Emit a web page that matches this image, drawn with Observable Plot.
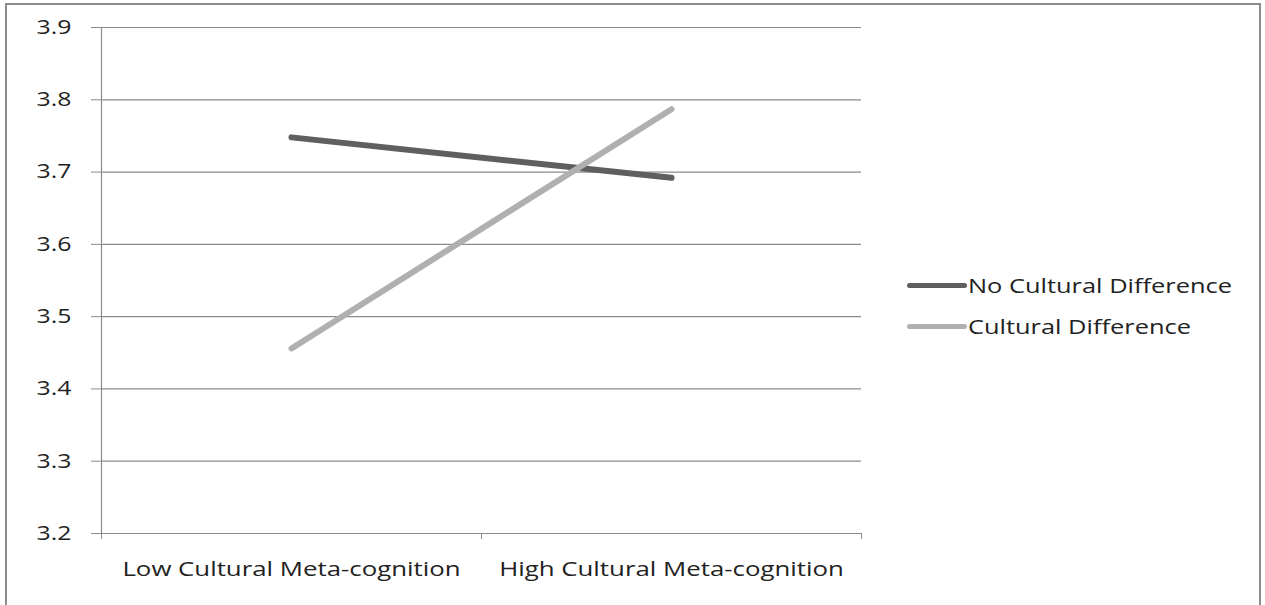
<!DOCTYPE html>
<html>
<head>
<meta charset="utf-8">
<script src="https://cdn.jsdelivr.net/npm/d3@7"></script>
<script src="https://cdn.jsdelivr.net/npm/@observablehq/plot@0.6"></script>
<style>
  html, body { margin: 0; padding: 0; background: #fff; }
  #wrap { position: relative; width: 1265px; height: 605px; overflow: hidden; font-family: "Open Sans", sans-serif; }
  #border { position: absolute; left: 5px; top: 3px; width: 1256px; height: 640px; border: 2px solid #8c8c8c; box-sizing: border-box; pointer-events: none; }
  #legend { position: absolute; left: 907px; top: 0; font-size: 20px; color: #222; }
  .item { position: absolute; left: 0; display: flex; align-items: center; white-space: nowrap; }
  .swatch { width: 60px; height: 5px; border-radius: 3px; margin-right: 1px; }
  .label { display: inline-block; transform: scaleX(1.27); transform-origin: left center; }
</style>
</head>
<body>
<div id="wrap">
  <div id="chart"></div>
  <div id="legend"></div>
  <div id="border"></div>
</div>
<script>
const categories = ["Low Cultural Meta-cognition", "High Cultural Meta-cognition"];
const seriesNames = ["No Cultural Difference", "Cultural Difference"];
const noCulturalDifference = [3.748, 3.692];
const culturalDifference = [3.456, 3.787];
const yTicks = [3.2, 3.3, 3.4, 3.5, 3.6, 3.7, 3.8, 3.9];
const colors = ["#5f5f5f", "#b0b0b0"];

const data = [];
[noCulturalDifference, culturalDifference].forEach((vals, s) => {
  vals.forEach((v, i) => data.push({series: seriesNames[s], idx: i + 0.5, cat: categories[i], value: v}));
});

const chart = Plot.plot({
  width: 1265,
  height: 605,
  marginLeft: 101,
  marginRight: 404,
  marginTop: 27,
  marginBottom: 72,
  style: {fontFamily: "Open Sans, sans-serif", fontSize: "20px", color: "#222", background: "transparent"},
  x: {type: "linear", domain: [0, categories.length]},
  y: {domain: [3.2, 3.9]},
  color: {domain: seriesNames, range: colors},
  marks: [
    Plot.ruleY(yTicks, {stroke: "#8c8c8c", strokeWidth: 1.2}),
    Plot.frame({anchor: "left", stroke: "#8c8c8c", strokeWidth: 1.2}),
    Plot.axisY({ticks: yTicks, tickSize: 10, tickPadding: 20, tickFormat: d3.format(".1f"), label: null, stroke: "#8c8c8c", fontSize: 20}),
    Plot.axisX({ticks: d3.range(categories.length + 1), tickSize: 6, tickFormat: () => "", label: null, stroke: "#8c8c8c"}),
    Plot.axisX({ticks: categories.map((c, i) => i + 0.5), tickSize: 0, tickPadding: 28, tickFormat: d => categories[Math.floor(d)], label: null, fontSize: 20}),
    Plot.line(data, {x: "idx", y: "value", z: "series", stroke: "series", strokeWidth: 6, strokeLinecap: "round"})
  ]
});
document.getElementById("chart").appendChild(chart);

// widen glyphs horizontally to match the reference's stretched lettering
chart.querySelectorAll("text").forEach(t => {
  const w = t.getComputedTextLength();
  if (w > 0) {
    const f = categories.includes(t.textContent) ? 1.29 : 1.24;
    t.setAttribute("textLength", (w * f).toFixed(1));
    t.setAttribute("lengthAdjust", "spacingAndGlyphs");
  }
});

const legend = document.getElementById("legend");
const tops = [285, 326];
seriesNames.forEach((name, i) => {
  const item = document.createElement("div");
  item.className = "item";
  item.style.top = (tops[i] - 14) + "px";
  item.style.height = "28px";
  const sw = document.createElement("div");
  sw.className = "swatch";
  sw.style.background = colors[i];
  const tx = document.createElement("span");
  tx.className = "label";
  tx.textContent = name;
  item.appendChild(sw);
  item.appendChild(tx);
  legend.appendChild(item);
});
</script>
</body>
</html>
